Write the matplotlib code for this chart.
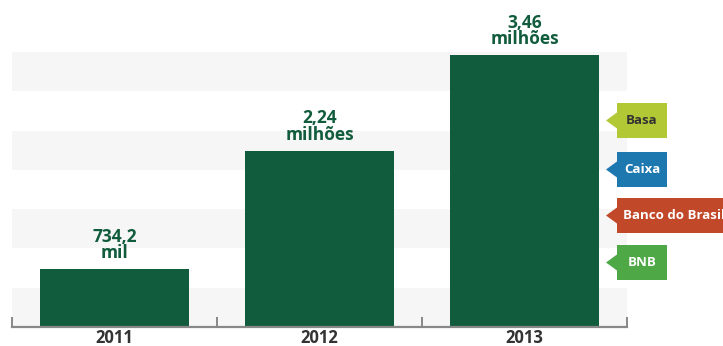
import matplotlib
matplotlib.use('Agg')
import matplotlib.pyplot as plt
from matplotlib.patches import Polygon
from matplotlib import font_manager

# data: clients (thousands) per year
years = ['2011', '2012', '2013']
values = [734.2, 2240, 3460]
value_labels = ['734,2\nmil', '2,24\nmilhões', '3,46\nmilhões']

# banks shown on the right
banks = ['Basa', 'Caixa', 'Banco do Brasil', 'BNB']
bank_colors = ['#b3c835', '#1d78b0', '#c2482a', '#4ea846']
bank_text = ['#333333', 'white', 'white', 'white']

names = {f.name for f in font_manager.fontManager.ttflist}
fam = [n for n in ['Liberation Sans Narrow', 'Open Sans', 'DejaVu Sans'] if n in names]
plt.rcParams['font.family'] = fam

W, H = 723, 346
fig = plt.figure(figsize=(W / 100, H / 100), dpi=100)
fig.patch.set_facecolor('white')

# axes box in pixels
x0, x1, ytop, ybot = 12, 627, 52, 327
ax = fig.add_axes([x0 / W, (H - ybot) / H, (x1 - x0) / W, (ybot - ytop) / H])
ax.set_xlim(0, 3)
ax.set_ylim(0, 3500)
ax.set_facecolor('white')

green = '#115c3c'

# alternating background bands
for lo in [0, 1000, 2000, 3000]:
    ax.axhspan(lo, lo + 500, color='#f6f6f6', zorder=0, lw=0)

pos = [i + 0.5 for i in range(len(years))]
ax.bar(pos, values, width=0.724, color=green, zorder=2)

for x, v, lab in zip(pos, values, value_labels):
    ax.annotate(lab, (x, v), xytext=(0, 5), textcoords='offset points',
                ha='center', va='bottom', fontsize=12.5, fontweight='bold',
                color=green, linespacing=0.9, annotation_clip=False)

for s in ['top', 'right', 'left']:
    ax.spines[s].set_visible(False)
ax.spines['bottom'].set_color('#888888')
ax.spines['bottom'].set_linewidth(1.6)
ax.set_yticks([])
ax.set_xticks([0, 1, 2, 3])
ax.set_xticklabels([])
ax.tick_params(axis='x', direction='in', length=7, width=1.4, color='#888888')
for x, yr in zip(pos, years):
    ax.text(x, -0.04, yr, transform=ax.get_xaxis_transform(), ha='center',
            va='center', fontsize=12, fontweight='bold', color='#333333')

# bank tags (arrow pointing left)
tag_tops = [103, 152, 198, 245]
tag_h = 35
for name, c, tc, top in zip(banks, bank_colors, bank_text, tag_tops):
    bx0, bx1 = 617, 667 if name != 'Banco do Brasil' else 740
    mid = top + tag_h / 2
    pts = [(bx0, top), (bx1, top), (bx1, top + tag_h), (bx0, top + tag_h),
           (bx0, mid + 8), (606, mid), (bx0, mid - 8)]
    pts = [(px / W, (H - py) / H) for px, py in pts]
    fig.patches.append(Polygon(pts, closed=True, transform=fig.transFigure,
                               facecolor=c, edgecolor='none'))
    if name == 'Banco do Brasil':
        fig.text(623 / W, (H - mid) / H, name, ha='left', va='center',
                 fontsize=9.5, fontweight='bold', color=tc)
    else:
        fig.text((bx0 + bx1) / 2 / W, (H - mid) / H, name, ha='center',
                 va='center', fontsize=9.5, fontweight='bold', color=tc)

fig.savefig('out.png', dpi=100, facecolor='white')
